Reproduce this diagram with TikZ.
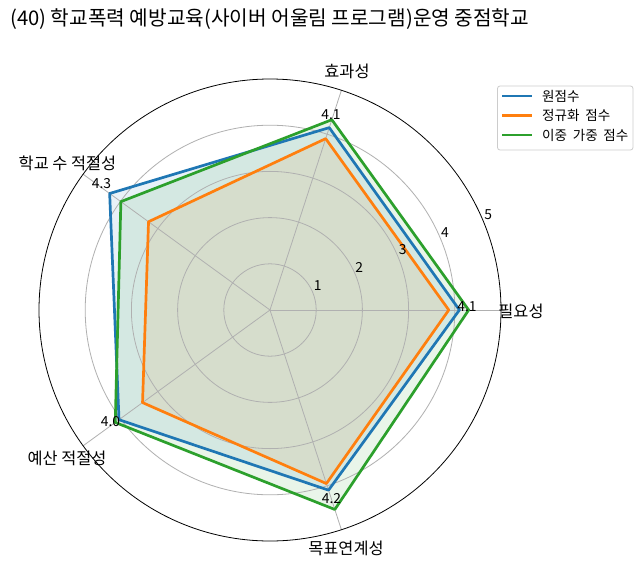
\documentclass[tikz,border=0pt]{standalone}
\usepackage{fontspec}
\newfontfamily\kr{Noto Sans CJK KR}
\newcommand\legfont{\kr\fontsize{13.6}{16}\selectfont\spaceskip 0.42em\relax}
\definecolor{cblue}{HTML}{1F77B4}
\definecolor{corange}{HTML}{FF7F0E}
\definecolor{cgreen}{HTML}{2CA02C}
\definecolor{cgrid}{HTML}{B0B0B0}
\definecolor{clegend}{HTML}{CCCCCC}
\tikzset{
  gridline/.style={draw=cgrid, line width=0.8bp},
  series/.style={line width=2.7bp, line join=round},
  seriesfill/.style={fill opacity=0.1},
  titletext/.style={font=\kr\fontsize{20.3}{24}\selectfont, inner sep=0pt},
  cattext/.style={font=\kr\fontsize{16.4}{19}\selectfont, inner sep=0pt},
  ticktext/.style={font=\kr\fontsize{13.9}{16}\selectfont, inner sep=0pt},
  valtext/.style={font=\kr\fontsize{13.9}{16}\selectfont, inner sep=0pt},
  legtext/.style={font=\legfont, inner sep=0pt, anchor=west},
}
\begin{document}
\begin{tikzpicture}[x=1bp,y=-1bp]
\useasboundingbox (0,0) rectangle (642,566);
\fill[white] (0,0) rectangle (642,566);
\coordinate (c) at (270,310);
\foreach \n/\a/\b/\o/\g in {1/0/4.1/3.87/4.3, 2/72/4.15/3.9/4.33, 3/144/4.29/3.25/3.99, 4/216/4.04/3.41/4.14, 5/288/4.1/3.95/4.54}{
  \coordinate (b\n) at ({270+46.2*\b*cos(\a)},{310-46.2*\b*sin(\a)});
  \coordinate (o\n) at ({270+46.2*\o*cos(\a)},{310-46.2*\o*sin(\a)});
  \coordinate (g\n) at ({270+46.2*\g*cos(\a)},{310-46.2*\g*sin(\a)});
  \coordinate (s\n) at ({270+231*cos(\a)},{310-231*sin(\a)});
}
% fills
\fill[cblue, seriesfill] (b1) -- (b2) -- (b3) -- (b4) -- (b5) -- cycle;
\fill[corange, seriesfill] (o1) -- (o2) -- (o3) -- (o4) -- (o5) -- cycle;
\fill[cgreen, seriesfill] (g1) -- (g2) -- (g3) -- (g4) -- (g5) -- cycle;
% grid
\foreach \k in {1,2,3,4}{
  \draw[gridline] (c) circle[radius=46.2*\k];
}
\foreach \n in {1,...,5}{
  \draw[gridline] (c) -- (s\n);
}
% lines
\draw[cblue, series] (b1) -- (b2) -- (b3) -- (b4) -- (b5) -- cycle;
\draw[corange, series] (o1) -- (o2) -- (o3) -- (o4) -- (o5) -- cycle;
\draw[cgreen, series] (g1) -- (g2) -- (g3) -- (g4) -- (g5) -- cycle;
% outer spine
\draw[black, line width=0.8bp] (c) circle[radius=231];
% radial tick labels
\node[ticktext] (t1) at (317.7,286) {1};
\node[ticktext] (t2) at (359.3,267.5) {2};
\node[ticktext] (t3) at (402.7,250) {3};
\node[ticktext] (t4) at (445,232.7) {4};
\node[ticktext] (t5) at (488.3,214.3) {5};
% category labels
\node[cattext] (l1) at (521,311) {필요성};
\node[cattext] (l2) at (347,71) {효과성};
\node[cattext] (l3) at (67.5,163) {학교 수 적절성};
\node[cattext] (l4) at (67,458) {예산 적절성};
\node[cattext] (l5) at (346,548) {목표연계성};
% value labels
\node[valtext] (v1) at (467,307) {4.1};
\node[valtext] (v2) at (331,115) {4.1};
\node[valtext] (v3) at (101.5,184) {4.3};
\node[valtext] (v4) at (110.5,421.5) {4.0};
\node[valtext] (v5) at (331.5,499) {4.2};
% title
\node[titletext, anchor=west] (title) at (10,19) {(40) 학교폭력 예방교육(사이버 어울림 프로그램)운영 중점학교};
% legend
\draw[draw=clegend, line width=0.8bp, fill=white, fill opacity=0.8, rounded corners=2.5bp] (497.5,86) rectangle (633,150);
\coordinate (la1) at (502,96); \coordinate (lb1) at (532,96);
\coordinate (la2) at (502,115.5); \coordinate (lb2) at (532,115.5);
\coordinate (la3) at (502,135); \coordinate (lb3) at (532,135);
\draw[cblue, series] (la1) -- (lb1);
\draw[corange, series] (la2) -- (lb2);
\draw[cgreen, series] (la3) -- (lb3);
\node[legtext] (e1) at (542,96) {원점수};
\node[legtext] (e2) at (542,115.5) {정규화 점수};
\node[legtext] (e3) at (542,135) {이중 가중 점수};
\end{tikzpicture}
\end{document}
